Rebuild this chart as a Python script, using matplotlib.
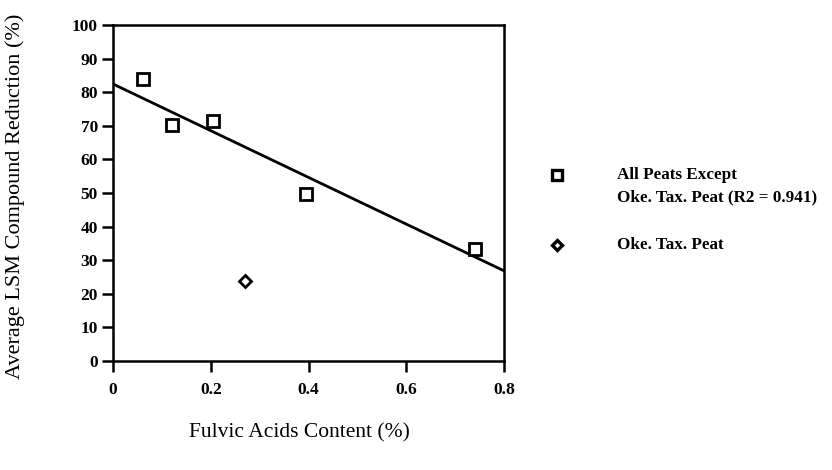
import numpy as np
import matplotlib.pyplot as plt
from matplotlib.lines import Line2D

# Fulvic acids content (%) vs average LSM compound reduction (%)
peat_fa = [0.061, 0.121, 0.205, 0.395, 0.741]
peat_red = [83.9, 70.2, 71.4, 49.7, 33.3]
oke_fa = [0.27]
oke_red = [23.8]

# fitted line for all peats except Oke. Tax. Peat
fit_icpt = 82.4
fit_slope = -69.5

x_ticks = [0, 0.2, 0.4, 0.6, 0.8]
x_labels = ["0", "0.2", "0.4", "0.6", "0.8"]
y_ticks = list(range(0, 101, 10))

plt.rcParams["font.family"] = ["Liberation Serif", "DejaVu Serif"]

fig = plt.figure(figsize=(8.32, 4.70), dpi=100)
ax = fig.add_axes([0.136, 0.232, 0.470, 0.715])

xx = np.array([0, 0.8])
ax.plot(xx, fit_icpt + fit_slope * xx, color="black", lw=2, zorder=2)

ax.plot(peat_fa, peat_red, "s", ms=8.5, mfc="white", mec="black", mew=2, zorder=3)
ax.plot(oke_fa, oke_red, "D", ms=6, mfc="white", mec="black", mew=2, zorder=3)

ax.set_xlim(0, 0.8)
ax.set_ylim(0, 100)
ax.set_xticks(x_ticks)
ax.set_xticklabels(x_labels)
ax.set_yticks(y_ticks)
for sp in ax.spines.values():
    sp.set_linewidth(1.8)
ax.tick_params(direction="out", length=8, width=1.8, labelsize=12.5, pad=3)
ax.tick_params(axis="x", pad=7)
for lab in ax.get_xticklabels() + ax.get_yticklabels():
    lab.set_fontweight("bold")

ax.set_ylabel("Average LSM Compound Reduction (%)", fontsize=16)
ax.yaxis.set_label_coords(-0.225, 0.49)
fig.text(0.36, 0.078, "Fulvic Acids Content (%)", fontsize=15.5, ha="center", va="center")

# legend drawn beside the axes
leg_x = 557 / 832
fig.add_artist(Line2D([leg_x], [1 - 175 / 470], marker="s", ms=7, mfc="white",
                      mec="black", mew=2.4, transform=fig.transFigure))
fig.add_artist(Line2D([leg_x], [1 - 245 / 470], marker="D", ms=5.5, mfc="white",
                      mec="black", mew=2.4, transform=fig.transFigure))
txt_x = 617 / 832
fig.text(txt_x, 1 - 175 / 470, "All Peats Except", fontsize=12.3, fontweight="bold",
         va="center")
fig.text(txt_x, 1 - 197 / 470, "Oke. Tax. Peat (R2 = 0.941)", fontsize=12.3,
         fontweight="bold", va="center")
fig.text(txt_x, 1 - 245 / 470, "Oke. Tax. Peat", fontsize=12.3, fontweight="bold",
         va="center")

fig.savefig("out.png", dpi=100)
